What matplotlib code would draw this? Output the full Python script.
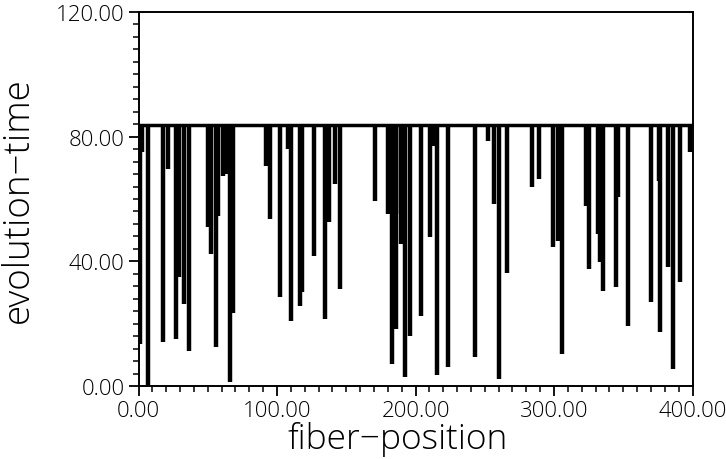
import matplotlib
matplotlib.use("Agg")
import matplotlib.pyplot as plt
from matplotlib.ticker import MultipleLocator, FormatStrFormatter

# fiber positions and the evolution time at which each fiber ends
fiber_pos = [1.0, 2.5, 6.5, 17.5, 21.0, 26.7, 29.5, 32.5, 36.5,
             50.2, 52.3, 56.0, 57.4, 61.0, 63.2, 65.7, 68.5,
             91.7, 95.0, 102.2, 107.9, 110.0, 116.6, 118.0, 126.7,
             134.3, 137.5, 141.5, 145.8, 170.4,
             180.1, 183.0, 185.6, 186.0, 189.2, 192.1, 195.7,
             203.6, 210.1, 212.6, 215.5, 223.1, 242.6,
             252.3, 257.0, 260.0, 265.7, 284.1, 289.5,
             299.3, 302.9, 306.1, 323.1, 325.3, 331.8, 333.2, 335.0,
             344.8, 346.2, 353.4, 370.0, 375.5, 376.5, 382.3, 385.6,
             391.0, 398.2]
evo_time = [13.5, 75.1, 0.0, 14.1, 69.6, 15.1, 35.0, 26.3, 11.2,
            51.0, 42.3, 12.5, 54.5, 67.4, 68.0, 1.3, 23.4,
            70.6, 53.6, 28.6, 76.0, 20.9, 25.7, 30.2, 41.7,
            21.5, 52.6, 64.8, 31.1, 59.4,
            55.2, 7.1, 18.3, 55.2, 45.6, 2.9, 16.0,
            22.5, 47.8, 77.0, 3.5, 6.1, 9.3,
            78.6, 58.4, 2.2, 36.3, 63.8, 66.4,
            44.6, 46.5, 10.3, 57.7, 37.5, 48.8, 39.8, 30.5,
            31.8, 60.6, 19.2, 26.9, 65.8, 17.3, 38.2, 5.5,
            33.4, 75.1]
top_level = 83.6

plt.rcParams["font.family"] = ["Open Sans", "DejaVu Sans"]
plt.rcParams["font.weight"] = "light"

fig = plt.figure(figsize=(7.26, 4.6), dpi=100)
ax = fig.add_axes([0.1908, 0.1587, 0.7631, 0.8130])

ax.vlines(fiber_pos, evo_time, top_level, color="black", linewidth=3.2)
ax.hlines(top_level, 0, 400, color="black", linewidth=2.5)

ax.set_xlim(0, 400)
ax.set_ylim(0, 120)
ax.xaxis.set_major_locator(MultipleLocator(100))
ax.xaxis.set_minor_locator(MultipleLocator(10))
ax.yaxis.set_major_locator(MultipleLocator(40))
ax.yaxis.set_minor_locator(MultipleLocator(4))
ax.xaxis.set_major_formatter(FormatStrFormatter("%.2f"))
ax.yaxis.set_major_formatter(FormatStrFormatter("%.2f"))
ax.tick_params(which="major", direction="out", length=7, width=1.3, labelsize=16, pad=3)
ax.tick_params(which="minor", direction="out", length=4, width=1.1)
for s in ax.spines.values():
    s.set_linewidth(1.4)

ax.set_xlabel("fiber\u2212position", fontsize=25.5, fontweight="light")
ax.xaxis.set_label_coords(0.468, -0.093)
ax.set_ylabel("evolution\u2212time", fontsize=26.5, fontweight="light")
ax.yaxis.set_label_coords(-0.183, 0.5)

fig.savefig("out.png", dpi=100)
